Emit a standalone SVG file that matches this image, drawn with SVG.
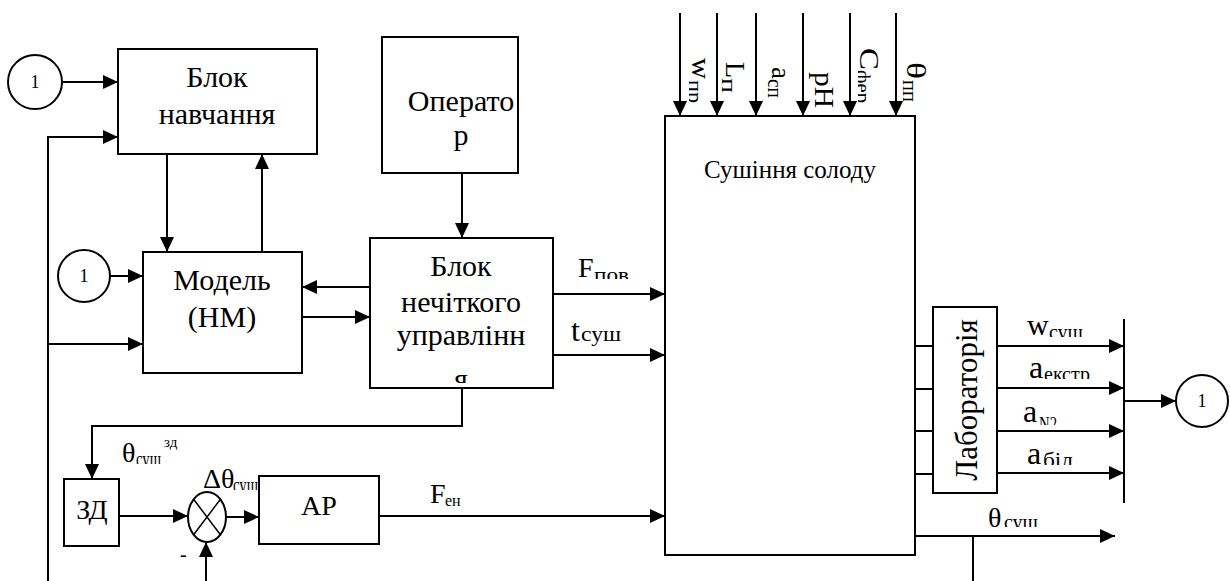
<svg xmlns="http://www.w3.org/2000/svg" width="1230" height="581" viewBox="0 0 1230 581">
<style>
.box{fill:#fff;stroke:#000;stroke-width:2}
.ln{fill:none;stroke:#000;stroke-width:2}
.ar{fill:none;stroke:#000;stroke-width:2;marker-end:url(#ah)}
.t{font-family:"Liberation Serif","Times New Roman",serif;fill:#000}
.big{font-size:30px;text-anchor:middle}
.lb{font-size:28px}
.lw{font-size:30px}
.la{font-size:32px}
.sb{font-size:20px}
.num{font-size:18px;text-anchor:middle}
</style>
<defs>
<marker id="ah" markerUnits="userSpaceOnUse" markerWidth="15" markerHeight="14" refX="15" refY="7" orient="auto">
<path d="M0,0 L15,7 L0,14 z" fill="#000"/>
</marker>
<clipPath id="cFpov"><rect x="590" y="250" width="60" height="29"/></clipPath>
<clipPath id="cW"><rect x="1040" y="320" width="70" height="17"/></clipPath>
<clipPath id="cA1"><rect x="1040" y="360" width="70" height="19"/></clipPath>
<clipPath id="cA2"><rect x="1036" y="405" width="70" height="20"/></clipPath>
<clipPath id="cA3"><rect x="1040" y="440" width="70" height="25"/></clipPath>
<clipPath id="cTh"><rect x="1000" y="505" width="60" height="22"/></clipPath>
<clipPath id="cTz"><rect x="133" y="440" width="29" height="24"/></clipPath>
<clipPath id="cDt"><rect x="230" y="470" width="29" height="20"/></clipPath>
<clipPath id="cYa"><rect x="370" y="360" width="183" height="23"/></clipPath>
<clipPath id="cRot"><rect x="858" y="40" width="30" height="80"/></clipPath>
<clipPath id="cRotW"><rect x="689" y="40" width="20" height="80"/></clipPath>
</defs>

<g id="connectors">
<path class="ar" d="M63,82 H118"/>
<path class="ar" d="M48,581 V137 H118"/>
<path class="ar" d="M48,344 H143"/>
<path class="ar" d="M167,154 V252"/>
<path class="ar" d="M262,252 V154"/>
<path class="ar" d="M110,276 H143"/>
<path class="ar" d="M370,287 H302"/>
<path class="ar" d="M302,317 H370"/>
<path class="ar" d="M462,173 V238"/>
<path class="ar" d="M553,294 H665"/>
<path class="ar" d="M553,355 H665"/>
<path class="ar" d="M462,388 V426 H92 V479"/>
<path class="ar" d="M119,516 H188"/>
<path class="ar" d="M226,517 H259"/>
<path class="ar" d="M379,516 H665"/>
<path class="ar" d="M206,581 V542"/>
<path class="ar" d="M680,13 V116"/>
<path class="ar" d="M717,13 V116"/>
<path class="ar" d="M756,13 V116"/>
<path class="ar" d="M803,13 V116"/>
<path class="ar" d="M850,13 V116"/>
<path class="ar" d="M896,13 V116"/>
<path class="ln" d="M915,346 H933 M915,389 H933 M915,431 H933 M915,474 H933"/>
<path class="ar" d="M997,346 H1124"/>
<path class="ar" d="M997,388 H1124"/>
<path class="ar" d="M997,431 H1124"/>
<path class="ar" d="M997,473 H1124"/>
<path class="ln" d="M1124,319 V503"/>
<path class="ar" d="M1124,401 H1176"/>
<path class="ar" d="M915,536 H1115"/>
<path class="ln" d="M973,536 V581"/>
</g>

<g id="node-circle-1a">
<circle cx="35" cy="82" r="27" class="box"/>
<text class="t num" x="35" y="88">1</text>
</g>
<g id="node-blok-navchannya">
<rect x="118" y="49" width="199" height="105" class="box"/>
<text class="t big" x="217" y="87">Блок</text>
<text class="t big" x="217" y="124">навчання</text>
</g>
<g id="node-operator">
<rect x="382" y="37" width="136" height="136" class="box"/>
<text class="t big" x="461" y="111">Операто</text>
<text class="t big" x="461" y="145">р</text>
</g>
<g id="node-circle-1b">
<circle cx="84" cy="276" r="26" class="box"/>
<text class="t num" x="84" y="282">1</text>
</g>
<g id="node-model">
<rect x="143" y="252" width="159" height="121" class="box"/>
<text class="t big" x="222" y="290">Модель</text>
<text class="t big" x="222" y="327">(НМ)</text>
</g>
<g id="node-fuzzy">
<rect x="370" y="238" width="183" height="150" class="box"/>
<text class="t big" x="461" y="276">Блок</text>
<text class="t big" x="461" y="312">нечіткого</text>
<text class="t big" x="461" y="345">управлінн</text>
<g clip-path="url(#cYa)"><text class="t big" x="461" y="389">я</text></g>
</g>
<g id="node-dryer">
<rect x="665" y="116" width="250" height="439" class="box"/>
<text class="t" style="font-size:25px;text-anchor:middle" x="790" y="178">Сушіння солоду</text>
</g>
<g id="node-lab">
<rect x="933" y="307" width="64" height="186" class="box"/>
<text class="t" style="font-size:31px;text-anchor:middle" transform="translate(977,400) rotate(-90)">Лабораторія</text>
</g>
<g id="node-circle-1c">
<circle cx="1202" cy="401" r="26" class="box"/>
<text class="t num" x="1202" y="407">1</text>
</g>
<g id="node-zd">
<rect x="64" y="479" width="55" height="67" class="box"/>
<text class="t" style="font-size:28px;text-anchor:middle" x="92" y="519">ЗД</text>
</g>
<g id="node-sum">
<ellipse cx="207" cy="517" rx="19" ry="25" class="box"/>
<path class="ln" d="M193.6,499.3 L220.4,534.7 M220.4,499.3 L193.6,534.7" style="stroke-width:1.5"/>
</g>
<g id="node-ar">
<rect x="259" y="476" width="120" height="68" class="box"/>
<text class="t" style="font-size:28px;text-anchor:middle" x="319" y="515">АР</text>
</g>

<g id="labels">
<text class="t lb" x="578" y="277">F</text>
<g clip-path="url(#cFpov)"><text class="t sb" x="594" y="282" textLength="35" lengthAdjust="spacingAndGlyphs">пов</text></g>
<text class="t la" x="571" y="341">t</text>
<text class="t sb" x="581" y="341" textLength="40" lengthAdjust="spacingAndGlyphs">суш</text>

<text class="t lw" x="1027" y="335">w</text>
<g clip-path="url(#cW)"><text class="t sb" x="1049" y="339" textLength="34" lengthAdjust="spacingAndGlyphs">суш</text></g>
<text class="t la" x="1029" y="378">a</text>
<g clip-path="url(#cA1)"><text class="t sb" x="1044" y="381" textLength="46" lengthAdjust="spacingAndGlyphs">екстр</text></g>
<text class="t la" x="1023" y="422">a</text>
<g clip-path="url(#cA2)"><text class="t sb" x="1039" y="431" textLength="18" lengthAdjust="spacingAndGlyphs">N2</text></g>
<text class="t la" x="1027" y="464">a</text>
<g clip-path="url(#cA3)"><text class="t sb" x="1043" y="467" textLength="30" lengthAdjust="spacingAndGlyphs">біл</text></g>

<text class="t lb" x="988" y="527">θ</text>
<g clip-path="url(#cTh)"><text class="t sb" x="1004" y="529" textLength="34" lengthAdjust="spacingAndGlyphs">суш</text></g>

<text class="t lb" x="122" y="462">θ</text>
<g clip-path="url(#cTz)"><text class="t sb" x="136" y="466" textLength="25" lengthAdjust="spacingAndGlyphs">суш</text></g>
<text class="t" style="font-size:15px" x="164" y="447">зд</text>

<text class="t lb" x="203" y="488">Δθ</text>
<g clip-path="url(#cDt)"><text class="t sb" x="233" y="492" textLength="25" lengthAdjust="spacingAndGlyphs">суш</text></g>

<text class="t lb" x="430" y="503">F</text>
<text class="t" style="font-size:16px" x="445" y="506">ен</text>

<text class="t" style="font-size:20px" x="180" y="561">-</text>

<text class="t lb" transform="translate(692,58) rotate(90)" textLength="21" lengthAdjust="spacingAndGlyphs">w</text>
<g clip-path="url(#cRotW)"><text class="t sb" transform="translate(688,80) rotate(90)" textLength="23" lengthAdjust="spacingAndGlyphs">пр</text></g>
<text class="t lb" transform="translate(726,62) rotate(90)" textLength="16" lengthAdjust="spacingAndGlyphs">L</text>
<text class="t sb" transform="translate(722,78) rotate(90)" textLength="15" lengthAdjust="spacingAndGlyphs">п</text>
<text class="t lb" transform="translate(772,67) rotate(90)" textLength="12" lengthAdjust="spacingAndGlyphs">a</text>
<text class="t sb" transform="translate(768,79) rotate(90)" textLength="19" lengthAdjust="spacingAndGlyphs">сп</text>
<text class="t lb" transform="translate(815,72) rotate(90)" textLength="36" lengthAdjust="spacingAndGlyphs">pH</text>
<text class="t lb" transform="translate(860,48) rotate(90)" textLength="22" lengthAdjust="spacingAndGlyphs">C</text>
<g clip-path="url(#cRot)"><text class="t sb" transform="translate(856,70) rotate(90)" textLength="33" lengthAdjust="spacingAndGlyphs">фер</text></g>
<text class="t lb" transform="translate(907,62) rotate(90)" textLength="17" lengthAdjust="spacingAndGlyphs">θ</text>
<text class="t sb" transform="translate(903,80) rotate(90)" textLength="22" lengthAdjust="spacingAndGlyphs">пп</text>
</g>
</svg>
